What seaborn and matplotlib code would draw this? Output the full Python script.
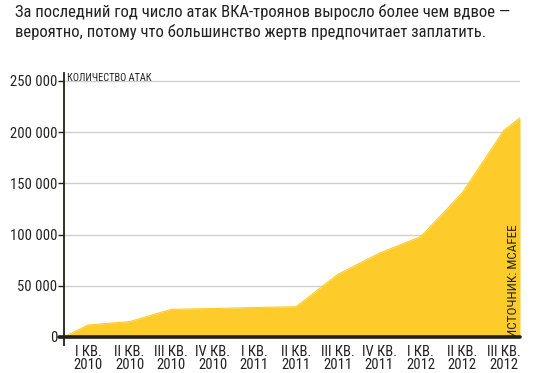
import matplotlib
matplotlib.use("Agg")
import matplotlib.pyplot as plt
import seaborn as sns
import pandas as pd
from matplotlib import font_manager as fm

names = {f.name for f in fm.fontManager.ttflist}
FAMILY = [n for n in ['Roboto Condensed', 'PT Sans Narrow', 'Fira Sans Condensed',
                      'IBM Plex Sans Condensed', 'Liberation Sans', 'DejaVu Sans'] if n in names]

quarters = ["I КВ.\n2010", "II КВ.\n2010", "III КВ.\n2010", "IV КВ.\n2010",
            "I КВ.\n2011", "II КВ.\n2011", "III КВ.\n2011", "IV КВ.\n2011",
            "I КВ.\n2012", "II КВ.\n2012", "III КВ.\n2012"]
attacks = [11700, 15000, 27000, 27800, 28800, 29500, 61000, 81800, 98000, 141000, 202000]
start_value = 0
end_value = 214000
yticks = [0, 50000, 100000, 150000, 200000, 250000]
ytick_labels = ["0", "50 000", "100 000", "150 000", "200 000", "250 000"]

title = ("За последний год число атак ВКА-троянов выросло более чем вдвое —\n"
         "вероятно, потому что большинство жертв предпочитает заплатить.")

sns.set_theme(style="white")
plt.rcParams['font.family'] = FAMILY

YELLOW = "#fdcb2a"
DARK = "#231f1a"

fig = plt.figure(figsize=(5.34, 3.73), dpi=100)
ax = fig.add_axes([0.1199, 0.0751, 0.8539, 0.7292])

x0, x1 = -0.577, 10.385
xs = [x0] + list(range(len(attacks))) + [x1]
ys = [start_value] + attacks + [end_value]
df = pd.DataFrame({"x": xs, "y": ys})

ax.set_xlim(x0, x1)
ax.set_ylim(-7812, 257800)

for v in yticks[1:]:
    ax.axhline(v, color="#cfcfcf", linewidth=1.0, zorder=0)

ax.fill_between(df["x"], 0, df["y"], color=YELLOW, linewidth=0, zorder=2)
sns.lineplot(data=df, x="x", y="y", ax=ax, color=YELLOW, linewidth=0.8, zorder=3)

ax.axhline(0, xmin=-0.012, xmax=1.0, color=DARK, linewidth=2.6, zorder=4, clip_on=False)

for s in ["top", "right", "bottom"]:
    ax.spines[s].set_visible(False)
ax.spines["left"].set_color(DARK)
ax.spines["left"].set_linewidth(1.3)
ax.spines["left"].set_zorder(5)

ax.set_yticks(yticks)
ax.set_yticklabels(ytick_labels, fontsize=10.5, color="#222222")
ax.tick_params(axis="y", length=4, width=1, color=DARK, pad=1, direction="out", left=True)
ax.set_xticks(range(len(quarters)))
ax.set_xticklabels(quarters, fontsize=10.5, color="#222222", linespacing=0.9)
ax.tick_params(axis="x", length=0, pad=0)
ax.set_xlabel("")
ax.set_ylabel("")

ax.text(0.006, 1.0, "КОЛИЧЕСТВО АТАК", transform=ax.transAxes, fontsize=7.5,
        color="#222222", ha="left", va="top")
ax.text(0.985, 0.03, "ИСТОЧНИК: MCAFEE", transform=ax.transAxes, fontsize=9.5,
        color="#222222", ha="center", va="bottom", rotation=90)

fig.text(15 / 534, 1 - 4 / 373, title, fontsize=12.0, color="#222222", ha="left", va="top",
         linespacing=1.3)

fig.savefig("out.png", dpi=100)
